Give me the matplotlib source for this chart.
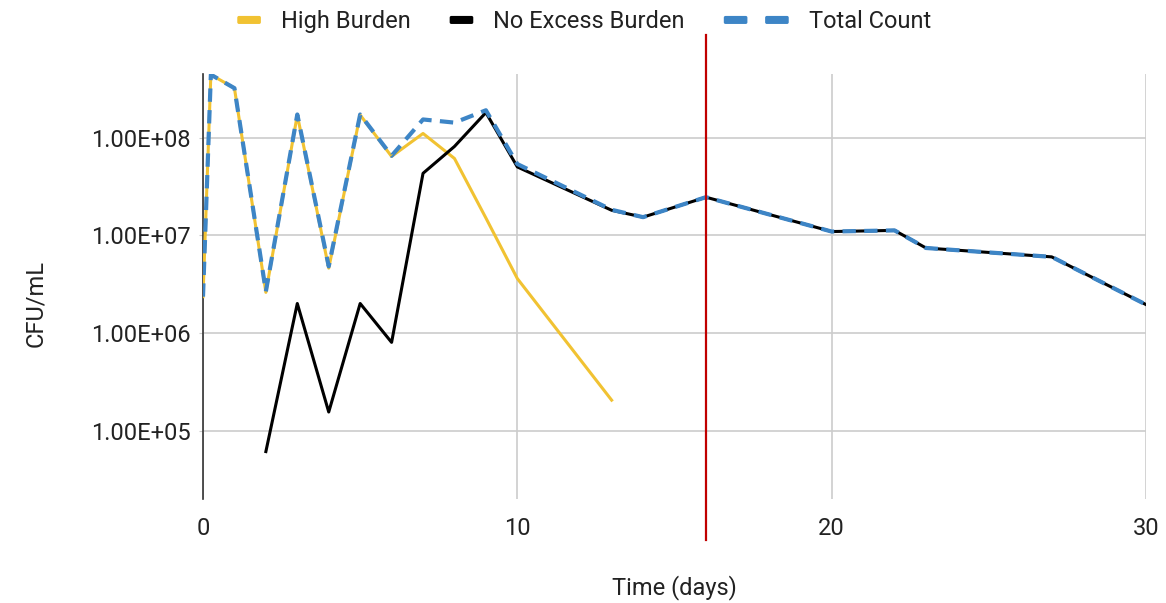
import matplotlib

matplotlib.use("Agg")
import matplotlib.pyplot as plt
import matplotlib.transforms as mtransforms
from matplotlib.lines import Line2D
from matplotlib.patches import FancyBboxPatch
from matplotlib.ticker import FixedLocator, FuncFormatter, NullLocator

plt.rcParams["font.family"] = ["Roboto", "DejaVu Sans"]

# values
high_days = [0, 0.25, 1, 2, 3, 4, 5, 6, 7, 8, 9, 10, 13]
high_cfu = [2.35e6, 4.4e8, 3.2e8, 2.6e6, 1.7e8, 4.6e6, 1.7e8, 6.4e7, 1.1e8, 6.1e7, 1.5e7, 3.6e6, 2.05e5]

noexcess_days = [2, 3, 4, 5, 6, 7, 8, 9, 10, 13, 14, 16, 20, 22, 23, 27, 30]
noexcess_cfu = [6.1e4, 2.0e6, 1.55e5, 2.0e6, 8.0e5, 4.3e7, 8.1e7, 1.8e8, 5.0e7, 1.8e7, 1.53e7,
                2.45e7, 1.09e7, 1.12e7, 7.4e6, 6.0e6, 1.95e6]

total_days = [0, 0.25, 1, 2, 3, 4, 5, 6, 7, 8, 9, 10, 13, 14, 16, 20, 22, 23, 27, 30]
total_cfu = [2.35e6, 4.4e8, 3.2e8, 2.66e6, 1.72e8, 4.8e6, 1.72e8, 6.5e7, 1.53e8, 1.42e8, 1.9e8,
             5.35e7, 1.82e7, 1.53e7, 2.45e7, 1.09e7, 1.12e7, 7.4e6, 6.0e6, 1.95e6]

marker_day = 16
y_ticks = [1e5, 1e6, 1e7, 1e8]
x_ticks = [0, 10, 20, 30]

YELLOW = "#f1c232"
BLUE = "#3d85c6"
RED = "#c00000"
TEXT = "#222222"
FS = 17


class SwatchHandler:
    """Sheets-style legend key: one or more small rounded bars."""

    def __init__(self, count=1):
        self.count = count

    def legend_artist(self, legend, orig_handle, fontsize, handlebox):
        w = fontsize * 1.0
        gap = fontsize * 0.75
        h = fontsize * 0.34
        handlebox.width = self.count * w + (self.count - 1) * gap
        yc = handlebox.ydescent + handlebox.height / 2
        patch = None
        for i in range(self.count):
            patch = FancyBboxPatch((handlebox.xdescent + i * (w + gap), yc - h / 2), w, h,
                                   boxstyle="round,pad=0,rounding_size=1.2",
                                   color=orig_handle.get_color(), lw=0,
                                   transform=handlebox.get_transform())
            handlebox.add_artist(patch)
        return patch


fig = plt.figure(figsize=(11.66, 6.03), dpi=100)
ax = fig.add_axes([203 / 1166, 1 - 499 / 603, (1146 - 203) / 1166, (499 - 74) / 603])

ax.plot(high_days, high_cfu, color=YELLOW, lw=2.2, zorder=3)
ax.plot(noexcess_days, noexcess_cfu, color="black", lw=2.2, zorder=4)
ax.plot(total_days, total_cfu, color=BLUE, lw=3, dashes=(3.2, 2.0), zorder=5)

ax.set_yscale("log")
ax.set_xlim(0, 30)
ax.set_ylim(10 ** 4.3, 10 ** 8.65)
ax.yaxis.set_major_locator(FixedLocator(y_ticks))
ax.yaxis.set_minor_locator(NullLocator())
ax.yaxis.set_major_formatter(FuncFormatter(lambda v, _: f"{v:.2E}"))
ax.xaxis.set_major_locator(FixedLocator(x_ticks))

ax.grid(True, color="#cccccc", lw=1.2)
ax.set_axisbelow(True)
for side in ("top", "right", "bottom"):
    ax.spines[side].set_visible(False)
ax.spines["left"].set_color("#333333")
ax.spines["left"].set_linewidth(1.2)
ax.tick_params(axis="y", length=3, color="#cccccc", labelsize=FS, labelcolor=TEXT, pad=6)
ax.tick_params(axis="x", length=0, labelsize=FS, labelcolor=TEXT, pad=13)

ax.set_xlabel("Time (days)", fontsize=FS, color=TEXT)
ax.set_ylabel("CFU/mL", fontsize=FS, color=TEXT)
ax.xaxis.label.set_va("center")
ax.yaxis.label.set_va("center")
ax.xaxis.set_label_coords(0.5, -0.209)
ax.yaxis.set_label_coords(-0.178, 0.46)

# red marker line, runs past the plot area like in the sheet
trans = mtransforms.blended_transform_factory(ax.transData, ax.transAxes)
ax.plot([marker_day, marker_day], [-0.096, 1.092], color=RED, lw=1.6, transform=trans,
        clip_on=False, zorder=6)

handles = [
    Line2D([], [], color=YELLOW),
    Line2D([], [], color="black"),
    Line2D([], [], color=BLUE),
]
labels = ["High Burden", "No Excess Burden", "Total Count"]
fig.legend(handles, labels, loc="center", bbox_to_anchor=(0.501, 0.964), ncol=3, frameon=False,
           fontsize=FS, handlelength=1.0, handletextpad=0.85, columnspacing=1.65, labelcolor=TEXT,
           handler_map={handles[0]: SwatchHandler(), handles[1]: SwatchHandler(),
                        handles[2]: SwatchHandler(2)})

fig.savefig("out.png", dpi=100)
